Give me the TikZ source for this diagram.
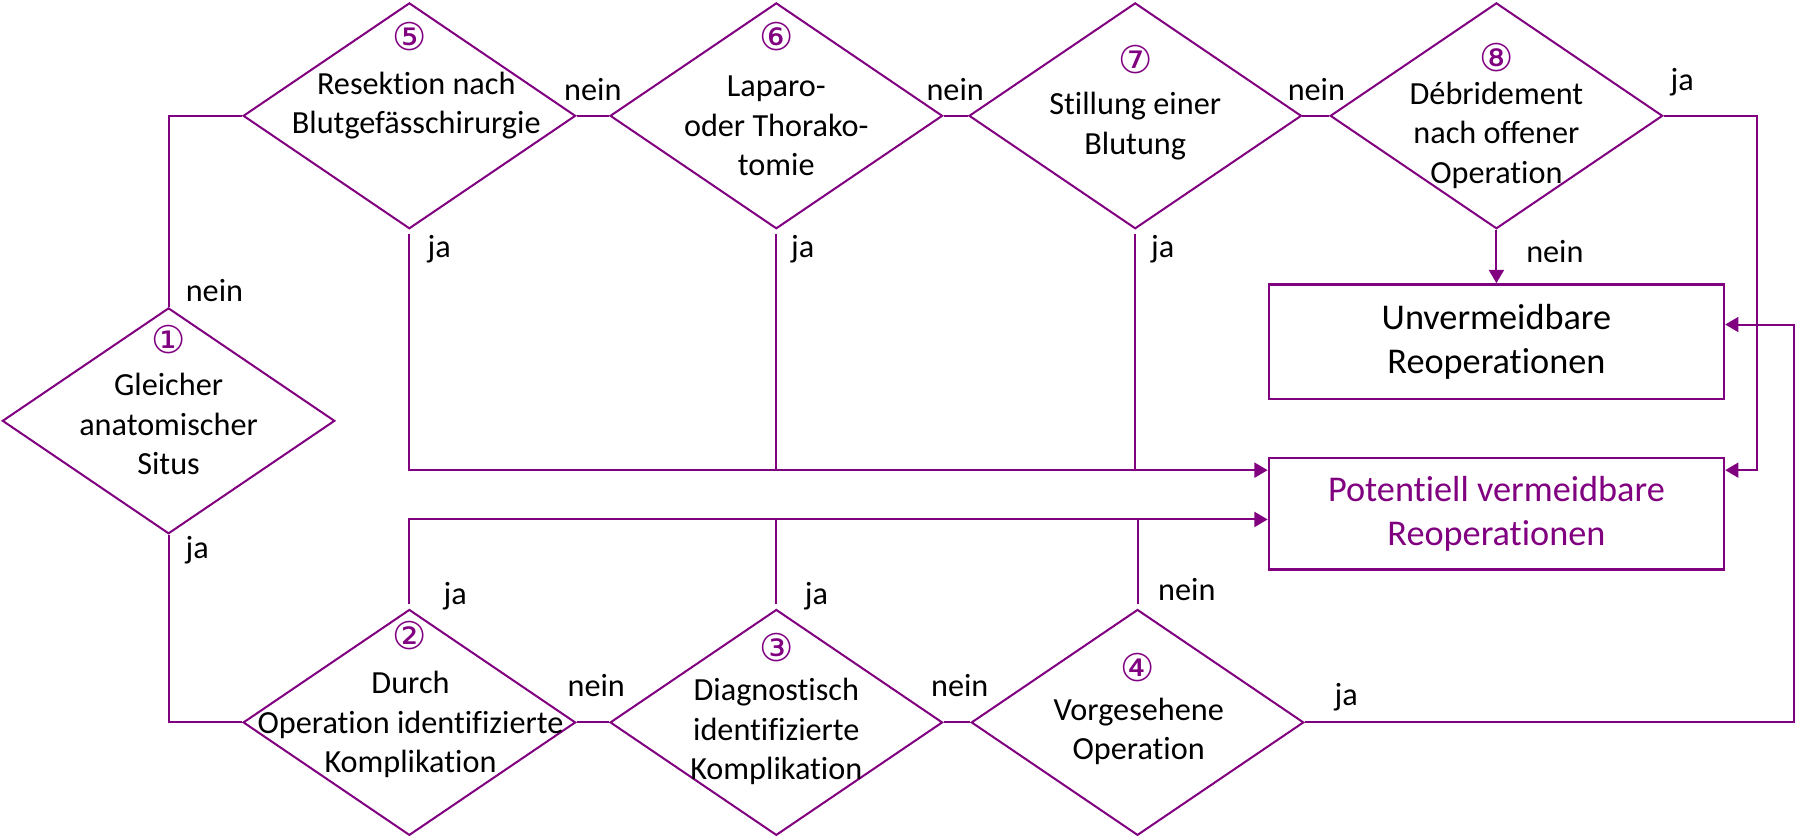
\documentclass[tikz,border=0pt]{standalone}
\usepackage{fontspec}
\setmainfont{Carlito}[Ligatures={NoCommon,NoRare}]
\newfontfamily\circfont{DejaVu Sans}
\usetikzlibrary{arrows.meta,positioning,shapes.geometric,calc}
\definecolor{plum}{RGB}{128,0,128}
\tikzset{
  >={Triangle[length=2.3mm,width=2.6mm]},
  query/.style={diamond,draw=plum,line width=1pt,minimum width=5.8cm,minimum height=3.94cm,inner sep=0pt},
  result/.style={draw=plum,line width=1.2pt,minimum width=7.94cm,minimum height=#1,inner sep=0pt,
    align=center,font=\fontsize{18}{22}\selectfont},
  result/.default=2cm,
  desc/.style={align=center,font=\fontsize{16}{19.6}\selectfont},
  num/.style={text=plum,inner sep=0pt,font=\circfont\fontsize{19}{22}\selectfont},
  answer/.style={font=\fontsize{16}{19}\selectfont},
  link/.style={draw=plum,line width=1pt},
  loose/.style={shorten <=2pt},
}
\begin{document}
\begin{tikzpicture}[x=0.02cm,y=-0.02cm]
  \useasboundingbox (0,0) rectangle (1568,730);
  % decisions
  \foreach \n/\x/\y in {1/147/367,5/357/101,6/677/101,7/990/101,8/1305/101,2/357/630,3/677/630,4/992/630}
    \node[query] (d\n) at (\x,\y) {};
  \foreach \n/\x/\y/\c in {1/147/296/①,2/357/554/②,3/677/565/③,4/992/582/④,5/357/32/⑤,6/677/32/⑥,7/990/52/⑦,8/1305/50/⑧}
    \node[num] (n\n) at (\x,\y) {\c};
  \node[desc] (t5) at (363,92) {Resektion nach\\Blutgefässchirurgie};
  \node[desc] (t6) at (677,110) {Laparo-\\oder Thorako-\\tomie};
  \node[desc] (t7) at (990,110) {Stillung einer\\Blutung};
  \node[desc] (t8) at (1305,118) {Débridement\\nach offener\\Operation};
  \node[desc] (t1) at (147,370) {Gleicher\\anatomischer\\Situs};
  \node[desc] (t2) at (358,632) {Durch\\Operation identifizierte\\Komplikation};
  \node[desc] (t3) at (677,638) {Diagnostisch\\identifizierte\\Komplikation};
  \node[desc] (t4) at (993,638) {Vorgesehene\\Operation};
  % outcomes
  \node[result] (unv) at (1305,298) {Unvermeidbare\\Reoperationen};
  \node[result=1.94cm,text=plum] (pot) at (1305,448) {Potentiell vermeidbare\\Reoperationen};
  \coordinate (inA) at ([yshift=0.76cm]pot.west);
  \coordinate (inB) at ([yshift=-0.1cm]pot.west);
  \coordinate (inC) at ([yshift=0.3cm]unv.east);
  \coordinate (inD) at ([yshift=0.76cm]pot.east);
  % connectors
  \draw[link] (d1.north) |- (d5.west);
  \draw[link] (d1.south) |- (d2.west);
  \foreach \a/\b in {5/6,6/7,7/8,2/3,3/4}
    \draw[link] (d\a.east) -- (d\b.west);
  \draw[link,->] (d8.south) -- (unv.north);
  \draw[link,->] (d8.east) -- ++(81,0) |- (inD);
  \draw[link,->] (d4.east) -- ++(427,0) |- (inC);
  \draw[link,->,loose] (d5.south) |- (inA);
  \draw[link,->,loose] (d2.north) |- (inB);
  \foreach \n in {6,7}
    \draw[link,loose] (d\n.south) -- (d\n.south |- inA);
  \foreach \n in {3,4}
    \draw[link,loose] (d\n.north) -- (d\n.north |- inB);
  % answers
  \foreach \x/\y/\t [count=\i] in {187/253/nein,172/480/ja,517/78/nein,833/78/nein,1148/78/nein,1467/72/ja,
      1356/219/nein,383/217/ja,700/217/ja,1014/217/ja,397/520/ja,712/520/ja,1035/514/nein,520/598/nein,
      837/598/nein,1174/608/ja}
    \node[answer] (a\i) at (\x,\y) {\t};
\end{tikzpicture}
\end{document}
